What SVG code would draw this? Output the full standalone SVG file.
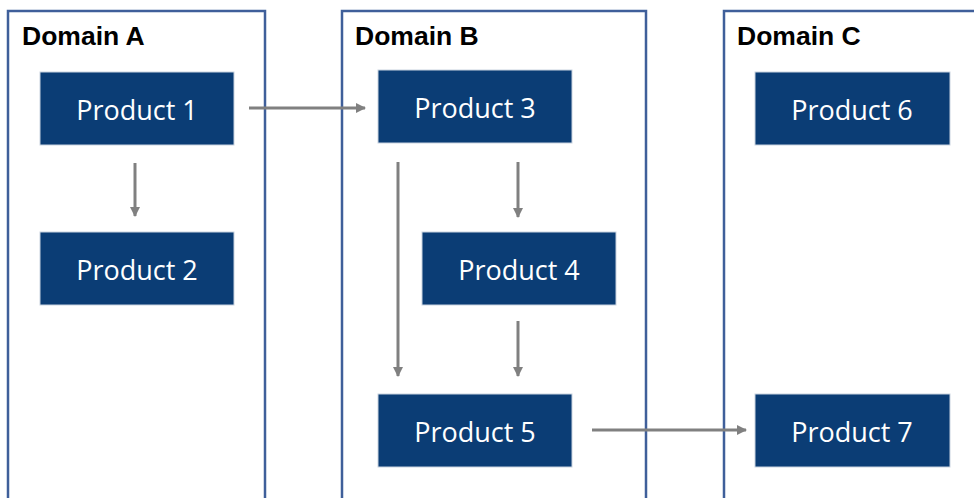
<svg xmlns="http://www.w3.org/2000/svg" width="974" height="498" viewBox="0 0 974 498">
  <style>
    .domain { fill: none; stroke: #3f5f9a; stroke-width: 2.5; }
    .dtitle { font-family: "Liberation Sans", Arial, sans-serif; font-weight: bold; font-size: 26.5px; fill: #000; }
    .prod { fill: #0b3d75; stroke: #c9d3e0; stroke-width: 1; }
    .plabel { font-family: "Open Sans", "Liberation Sans", sans-serif; font-size: 27px; fill: #fff; text-anchor: middle; dominant-baseline: central; }
    .conn { stroke: #808080; stroke-width: 3; fill: none; marker-end: url(#arrow); }
  </style>
  <defs>
    <marker id="arrow" viewBox="0 0 10 10" refX="9" refY="5" markerWidth="3.4" markerHeight="3.4" orient="auto" markerUnits="strokeWidth">
      <path d="M0,0 L10,5 L0,10 z" fill="#808080"/>
    </marker>
  </defs>
  <rect width="974" height="498" fill="#fff"/>

  <g id="domain-a">
    <rect class="domain" x="8" y="11" width="257" height="500"/>
    <text class="dtitle" x="22" y="45">Domain A</text>
  </g>
  <g id="domain-b">
    <rect class="domain" x="342" y="11" width="304" height="500"/>
    <text class="dtitle" x="355" y="45">Domain B</text>
  </g>
  <g id="domain-c">
    <rect class="domain" x="724" y="11" width="300" height="500"/>
    <text class="dtitle" x="737" y="45">Domain C</text>
  </g>

  <g id="product-1">
    <rect class="prod" x="40" y="72" width="194" height="73"/>
    <text class="plabel" x="137" y="109">Product 1</text>
  </g>
  <g id="product-2">
    <rect class="prod" x="40" y="232" width="194" height="73"/>
    <text class="plabel" x="137" y="269">Product 2</text>
  </g>
  <g id="product-3">
    <rect class="prod" x="378" y="70" width="194" height="73"/>
    <text class="plabel" x="475" y="107">Product 3</text>
  </g>
  <g id="product-4">
    <rect class="prod" x="422" y="232" width="194" height="73"/>
    <text class="plabel" x="519" y="269">Product 4</text>
  </g>
  <g id="product-5">
    <rect class="prod" x="378" y="394" width="194" height="73"/>
    <text class="plabel" x="475" y="431">Product 5</text>
  </g>
  <g id="product-6">
    <rect class="prod" x="755" y="72" width="195" height="73"/>
    <text class="plabel" x="852" y="109">Product 6</text>
  </g>
  <g id="product-7">
    <rect class="prod" x="755" y="394" width="195" height="73"/>
    <text class="plabel" x="852" y="431">Product 7</text>
  </g>

  <g id="connectors">
    <line class="conn" x1="249" y1="108" x2="365" y2="108"/>
    <line class="conn" x1="135" y1="163" x2="135" y2="216"/>
    <line class="conn" x1="398" y1="162" x2="398" y2="376"/>
    <line class="conn" x1="518" y1="162" x2="518" y2="217"/>
    <line class="conn" x1="518" y1="321" x2="518" y2="376"/>
    <line class="conn" x1="592" y1="430" x2="746" y2="430"/>
  </g>
</svg>
